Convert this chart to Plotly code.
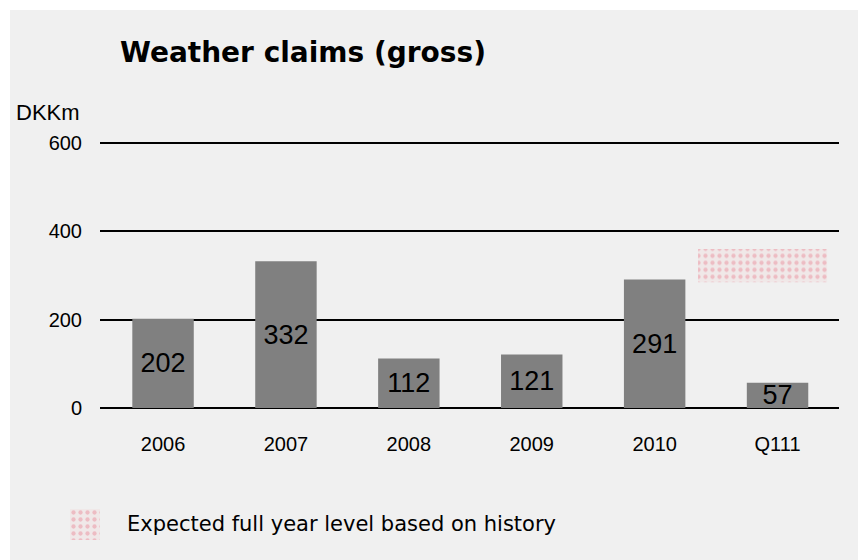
import plotly.graph_objects as go

categories = ["2006", "2007", "2008", "2009", "2010", "Q111"]
claims = [202, 332, 112, 121, 291, 57]
expected_category = ["Q111"]
expected_low = [285]
expected_high = [360]
y_ticks = [0, 200, 400, 600]
title_text = "Weather claims (gross)"
unit_text = "DKKm"
legend_text = "Expected full year level based on history"

W, H = 858, 560
Y_TOP = 606
PL, PR, PB = 100, 839, 408
PT = PB - Y_TOP * (408 - 143) / 600  # so that 600 sits at y=143


def px_x(x):
    return x / W


def px_y(y):
    return (H - y) / H


pattern = dict(shape=".", fgcolor="#e9909e", bgcolor="#f0e8e8", size=7, solidity=0.3)

fig = go.Figure()

fig.add_trace(go.Bar(
    x=categories, y=claims, width=0.5,
    marker=dict(color="#808080", line=dict(width=0)),
    text=[str(v) for v in claims], textposition="inside",
    insidetextanchor="middle", constraintext="none",
    textfont=dict(family="Arial", size=27, color="black"),
    showlegend=False, hoverinfo="skip",
))

fig.add_trace(go.Bar(
    x=expected_category,
    y=[h - l for h, l in zip(expected_high, expected_low)],
    base=expected_low,
    offset=-0.647, width=1.05,
    marker=dict(color="#f0e8e8", pattern=pattern, line=dict(width=0)),
    showlegend=False, hoverinfo="skip",
))

# legend swatch
fig.add_trace(go.Bar(
    x=[0], y=[1], width=1, xaxis="x2", yaxis="y2",
    marker=dict(color="#f0e8e8", pattern=pattern, line=dict(width=0)),
    showlegend=False, hoverinfo="skip",
))

fig.update_layout(
    width=W, height=H,
    margin=dict(l=0, r=0, t=0, b=0, autoexpand=False),
    paper_bgcolor="white",
    plot_bgcolor="rgba(0,0,0,0)",
    barmode="overlay",
    xaxis=dict(
        domain=[px_x(PL), px_x(PR)], automargin=False,
        type="category", range=[-0.513, 5.5],
        showgrid=False, showline=False, zeroline=False, ticks="",
        tickfont=dict(family="Arial", size=20, color="black"),
        ticklabelstandoff=22,
    ),
    yaxis=dict(
        domain=[px_y(PB), px_y(PT)], automargin=False,
        range=[0, Y_TOP], tickvals=y_ticks,
        showgrid=True, gridcolor="black", gridwidth=2,
        zeroline=True, zerolinecolor="black", zerolinewidth=2,
        showline=False, ticks="",
        tickfont=dict(family="Arial", size=20, color="black"),
        ticklabelstandoff=17,
    ),
    xaxis2=dict(domain=[px_x(70), px_x(100)], range=[-0.5, 0.5], anchor="y2",
                visible=False, fixedrange=True, automargin=False),
    yaxis2=dict(domain=[px_y(540), px_y(509)], range=[0, 1], anchor="x2",
                visible=False, fixedrange=True, automargin=False),
    shapes=[dict(type="rect", xref="paper", yref="paper",
                 x0=px_x(10), x1=1, y0=0, y1=px_y(10),
                 fillcolor="#f0f0f0", line=dict(width=0), layer="below")],
    annotations=[
        dict(text="<b>" + title_text + "</b>", xref="paper", yref="paper",
             x=px_x(118), y=px_y(52),
             xanchor="left", yanchor="middle", showarrow=False,
             font=dict(family="DejaVu Sans", size=28, color="black")),
        dict(text=unit_text, xref="paper", yref="paper",
             x=px_x(14), y=px_y(113),
             xanchor="left", yanchor="middle", showarrow=False,
             font=dict(family="Arial", size=22, color="black")),
        dict(text=legend_text, xref="paper", yref="paper",
             x=px_x(125), y=px_y(524),
             xanchor="left", yanchor="middle", showarrow=False,
             font=dict(family="DejaVu Sans", size=21, color="black")),
    ],
)

fig.write_html("out.html")
